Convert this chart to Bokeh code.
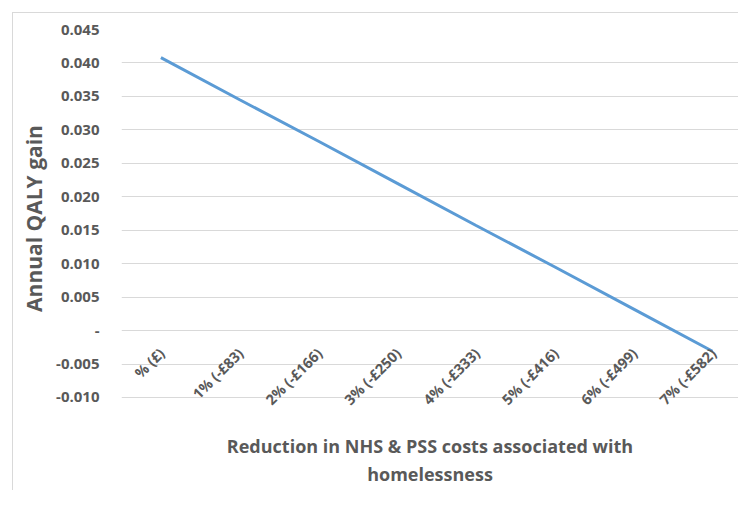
import math
from bokeh.plotting import figure
from bokeh.layouts import column
from bokeh.models import Range1d, FixedTicker, ColumnDataSource
from bokeh.core.properties import value
from bokeh.embed import file_html
from bokeh.resources import INLINE

categories = ["% (£)", "1% (-£83)", "2% (-£166)", "3% (-£250)",
              "4% (-£333)", "5% (-£416)", "6% (-£499)", "7% (-£582)"]
qaly_gain = [0.0408, 0.0345, 0.0283, 0.0220, 0.0157, 0.0095, 0.0032, -0.0031]
y_ticks = [-0.010, -0.005, 0.0, 0.005, 0.010, 0.015, 0.020, 0.025, 0.030, 0.035, 0.040, 0.045]
y_tick_labels = ["-0.010", "-0.005", "-", "0.005", "0.010", "0.015", "0.020",
                 "0.025", "0.030", "0.035", "0.040", "0.045"]

FONT = "Open Sans"
GREY = "#595959"

xs = list(range(len(categories)))
src = ColumnDataSource(dict(x=xs, y=qaly_gain, label=categories, zero=[0.0] * len(categories)))

p = figure(width=725, height=477, output_backend="svg", toolbar_location=None,
           x_range=Range1d(-0.5, 7.33), y_range=Range1d(-0.0115, 0.045),
           min_border_left=108, min_border_right=0, min_border_top=16, min_border_bottom=83)
p.outline_line_color = None
p.border_fill_color = "white"
p.background_fill_color = "white"
p.xgrid.visible = False
p.ygrid.grid_line_color = "#d9d9d9"
p.ygrid.grid_line_width = 1

p.yaxis.ticker = FixedTicker(ticks=y_ticks)
p.yaxis.major_label_overrides = {t: l for t, l in zip(y_ticks, y_tick_labels)}
p.yaxis.axis_line_color = None
p.yaxis.major_tick_line_color = None
p.yaxis.minor_tick_line_color = None
p.yaxis.major_label_standoff = 16
p.yaxis.major_label_text_font = FONT
p.yaxis.major_label_text_font_style = "bold"
p.yaxis.major_label_text_font_size = "15px"
p.yaxis.major_label_text_color = GREY
p.yaxis.axis_label = "Annual QALY gain"
p.yaxis.axis_label_text_font = FONT
p.yaxis.axis_label_text_font_style = "bold"
p.yaxis.axis_label_text_font_size = "21px"
p.yaxis.axis_label_text_color = GREY
p.yaxis.axis_label_standoff = 5

p.xaxis.ticker = FixedTicker(ticks=[])
p.xaxis.axis_line_color = None
p.xaxis.major_tick_line_color = None
p.xaxis.minor_tick_line_color = None
p.xaxis.major_label_text_font_size = "0px"
p.xaxis.axis_label = "Reduction in NHS & PSS costs associated with\nhomelessness"
p.xaxis.axis_label_text_font = FONT
p.xaxis.axis_label_text_font_style = "bold"
p.xaxis.axis_label_text_font_size = "18px"
p.xaxis.axis_label_text_color = GREY
p.xaxis.axis_label_standoff = 26

p.line("x", "y", source=src, line_color="#5b9bd5", line_width=3)

p.text("x", "zero", text="label", source=src, angle=math.pi / 4,
       text_align="right", text_baseline="middle", x_offset=1, y_offset=20,
       text_font=value(FONT), text_font_style="bold", text_font_size="14.5px",
       text_color=GREY)

layout = column(p, styles={"margin-left": "12px", "margin-top": "12px",
                           "border-left": "1px solid #d9d9d9",
                           "border-top": "1px solid #d9d9d9"})

open("out.html", "w").write(file_html(layout, INLINE))
